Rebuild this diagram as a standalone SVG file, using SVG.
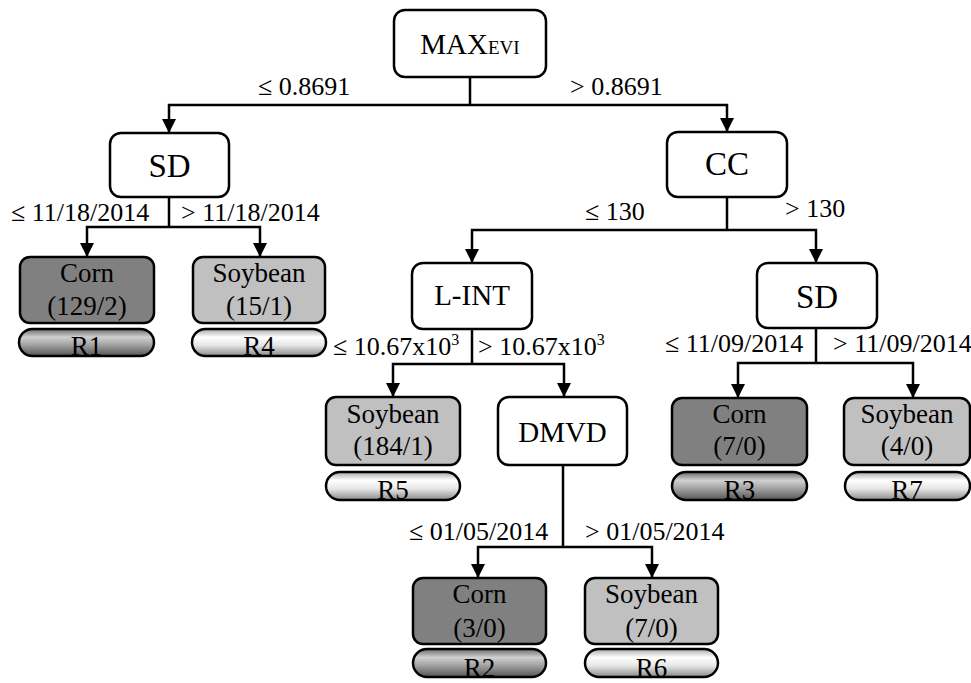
<svg xmlns="http://www.w3.org/2000/svg" width="971" height="683" viewBox="0 0 971 683" font-family="'Liberation Serif', 'Times New Roman', Times, serif">
<style>
.dec{fill:#fff;stroke:#000;stroke-width:2.5}
.corn{fill:#808080;stroke:#000;stroke-width:2.5}
.soy{fill:#c0c0c0;stroke:#000;stroke-width:2.5}
.pd{fill:url(#gd);stroke:#000;stroke-width:2.5}
.pl{fill:url(#gl);stroke:#000;stroke-width:2.5}
text{font-family:'Liberation Serif','Times New Roman',Times,serif;fill:#000}
.n{font-size:29px;text-anchor:middle}
.nb{font-size:33px}
.lf{font-size:27px;text-anchor:middle}
.lb{font-size:26px}
.ln{fill:none;stroke:#000;stroke-width:2.5}
</style>
<defs>
<linearGradient id="gd" x1="0" y1="0" x2="0" y2="1">
<stop offset="0" stop-color="#6a6a6a"/>
<stop offset="0.3" stop-color="#d0d0d0"/>
<stop offset="0.6" stop-color="#a0a0a0"/>
<stop offset="1" stop-color="#555"/>
</linearGradient>
<linearGradient id="gl" x1="0" y1="0" x2="0" y2="1">
<stop offset="0" stop-color="#a8a8a8"/>
<stop offset="0.3" stop-color="#fff"/>
<stop offset="0.6" stop-color="#e6e6e6"/>
<stop offset="1" stop-color="#8a8a8a"/>
</linearGradient>
<marker id="ah" viewBox="0 0 14 14" refX="14" refY="7" markerWidth="14" markerHeight="14" markerUnits="userSpaceOnUse" orient="auto">
<path d="M0,0 L14,7 L0,14 z" fill="#000"/>
</marker>
</defs>

<g id="connectors">
<path class="ln" d="M470,77 V105"/>
<path class="ln" d="M470,105 H169 V133" marker-end="url(#ah)"/>
<path class="ln" d="M470,105 H727 V132" marker-end="url(#ah)"/>
<path class="ln" d="M169,197 V227"/>
<path class="ln" d="M169,227 H87 V257" marker-end="url(#ah)"/>
<path class="ln" d="M169,227 H260 V257" marker-end="url(#ah)"/>
<path class="ln" d="M727,197 V230"/>
<path class="ln" d="M727,230 H472 V263" marker-end="url(#ah)"/>
<path class="ln" d="M727,230 H816 V263" marker-end="url(#ah)"/>
<path class="ln" d="M472,329 V364"/>
<path class="ln" d="M472,364 H393 V397" marker-end="url(#ah)"/>
<path class="ln" d="M472,364 H564 V397" marker-end="url(#ah)"/>
<path class="ln" d="M816,328 V363"/>
<path class="ln" d="M816,363 H738 V398" marker-end="url(#ah)"/>
<path class="ln" d="M816,363 H913 V398" marker-end="url(#ah)"/>
<path class="ln" d="M563,465 V547"/>
<path class="ln" d="M563,547 H478 V578" marker-end="url(#ah)"/>
<path class="ln" d="M563,547 H652 V578" marker-end="url(#ah)"/>
</g>

<g id="labels">
<text class="lb" x="258" y="95">≤ 0.8691</text>
<text class="lb" x="570" y="95">&gt; 0.8691</text>
<text class="lb" x="11" y="221">≤ 11/18/2014</text>
<text class="lb" x="181" y="221">&gt; 11/18/2014</text>
<text class="lb" x="585" y="220">≤ 130</text>
<text class="lb" x="785" y="217">&gt; 130</text>
<text class="lb" x="333" y="355">≤ 10.67x10<tspan font-size="16" dy="-10">3</tspan></text>
<text class="lb" x="478" y="355">&gt; 10.67x10<tspan font-size="16" dy="-10">3</tspan></text>
<text class="lb" x="665" y="352">≤ 11/09/2014</text>
<text class="lb" x="833" y="352">&gt; 11/09/2014</text>
<text class="lb" x="409" y="540">≤ 01/05/2014</text>
<text class="lb" x="585" y="540">&gt; 01/05/2014</text>
</g>

<g id="n-maxevi">
<rect class="dec" x="394" y="10" width="152" height="67" rx="11"/>
<text class="n" x="470" y="54">MAX<tspan font-size="19">EVI</tspan></text>
</g>
<g id="n-sd1">
<rect class="dec" x="110" y="133" width="119" height="64" rx="11"/>
<text class="n nb" x="169.5" y="177">SD</text>
</g>
<g id="n-cc">
<rect class="dec" x="667" y="132" width="120" height="65" rx="11"/>
<text class="n nb" x="727" y="175">CC</text>
</g>
<g id="n-lint">
<rect class="dec" x="412" y="263" width="120" height="66" rx="11"/>
<text class="n" x="472" y="305">L-INT</text>
</g>
<g id="n-sd2">
<rect class="dec" x="757" y="263" width="120" height="65" rx="11"/>
<text class="n nb" x="817" y="308">SD</text>
</g>
<g id="n-dmvd">
<rect class="dec" x="498" y="397" width="129" height="68" rx="11"/>
<text class="n" x="562.5" y="442">DMVD</text>
</g>

<g id="leaf-r1">
<rect class="corn" x="20" y="257" width="134" height="66" rx="10"/>
<text class="lf" x="87" y="282">Corn</text>
<text class="lf" x="87" y="315">(129/2)</text>
<rect class="pd" x="19" y="329" width="135" height="27" rx="13.5"/>
<text class="lf" x="86.5" y="355">R1</text>
</g>
<g id="leaf-r4">
<rect class="soy" x="193" y="257" width="132" height="66" rx="10"/>
<text class="lf" x="259" y="282">Soybean</text>
<text class="lf" x="259" y="315">(15/1)</text>
<rect class="pl" x="192" y="329" width="134" height="27" rx="13.5"/>
<text class="lf" x="259" y="355">R4</text>
</g>
<g id="leaf-r5">
<rect class="soy" x="326" y="397" width="134" height="68" rx="10"/>
<text class="lf" x="393" y="423">Soybean</text>
<text class="lf" x="393" y="455">(184/1)</text>
<rect class="pl" x="326" y="472" width="134" height="28" rx="14"/>
<text class="lf" x="393" y="499">R5</text>
</g>
<g id="leaf-r3">
<rect class="corn" x="672" y="398" width="135" height="67" rx="10"/>
<text class="lf" x="739.5" y="423">Corn</text>
<text class="lf" x="739.5" y="455">(7/0)</text>
<rect class="pd" x="672" y="472" width="135" height="28" rx="14"/>
<text class="lf" x="739.5" y="499">R3</text>
</g>
<g id="leaf-r7">
<rect class="soy" x="844" y="398" width="126" height="67" rx="10"/>
<text class="lf" x="907" y="423">Soybean</text>
<text class="lf" x="907" y="455">(4/0)</text>
<rect class="pl" x="845" y="472" width="125" height="28" rx="14"/>
<text class="lf" x="907" y="499">R7</text>
</g>
<g id="leaf-r2">
<rect class="corn" x="413" y="578" width="133" height="66" rx="10"/>
<text class="lf" x="479.5" y="603">Corn</text>
<text class="lf" x="479.5" y="637">(3/0)</text>
<rect class="pd" x="413" y="649" width="133" height="28" rx="14"/>
<text class="lf" x="479.5" y="677">R2</text>
</g>
<g id="leaf-r6">
<rect class="soy" x="585" y="578" width="133" height="66" rx="10"/>
<text class="lf" x="651.5" y="603">Soybean</text>
<text class="lf" x="651.5" y="637">(7/0)</text>
<rect class="pl" x="585" y="649" width="133" height="28" rx="14"/>
<text class="lf" x="651.5" y="677">R6</text>
</g>
</svg>
